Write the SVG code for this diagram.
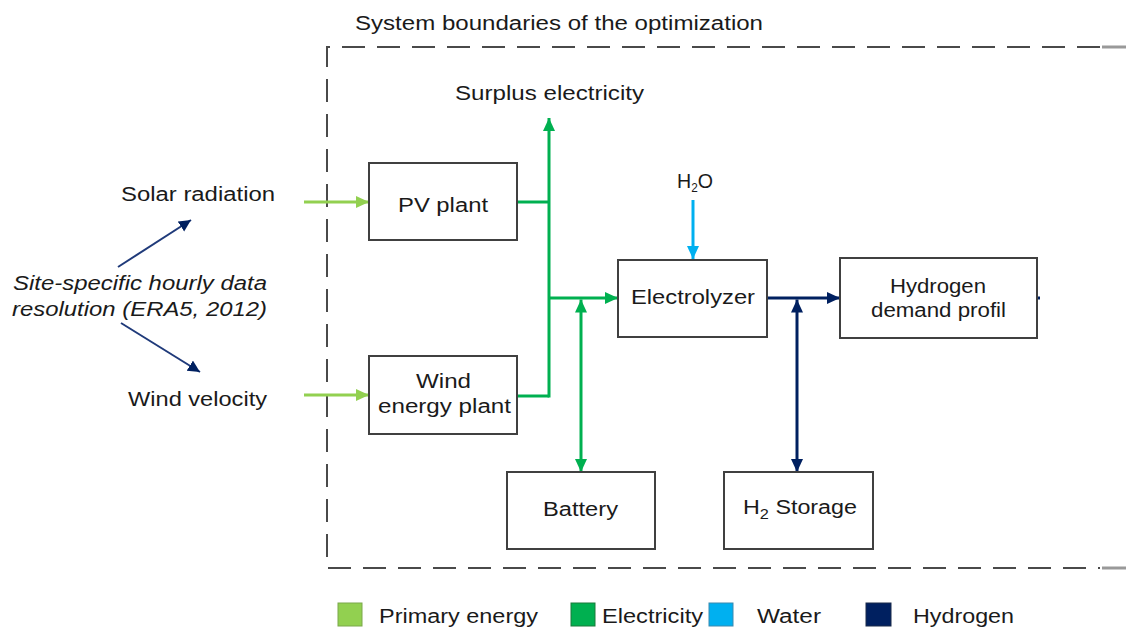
<svg xmlns="http://www.w3.org/2000/svg" width="1136" height="628" viewBox="0 0 1136 628">
<style>
text{font-family:"Liberation Sans",Arial,sans-serif;font-size:20px;fill:#1a1a1a}
.box{fill:#fff;stroke:#404040;stroke-width:2}
.bnd{fill:none;stroke:#4a4a4a;stroke-width:2;stroke-dasharray:23 12}
.pe{stroke:#92D050;stroke-width:3;fill:none}
.el{stroke:#00B050;stroke-width:3;fill:none}
.wa{stroke:#00B0F0;stroke-width:3;fill:none}
.hy{stroke:#002060;stroke-width:3;fill:none}
.nv{stroke:#1F3A7A;stroke-width:2;fill:none}
</style>
<defs>
<marker id="mPE" markerUnits="userSpaceOnUse" markerWidth="14" markerHeight="14" refX="13" refY="7" orient="auto-start-reverse"><path d="M0,1 L13,7 L0,13 z" fill="#92D050"/></marker>
<marker id="mEL" markerUnits="userSpaceOnUse" markerWidth="14" markerHeight="14" refX="13" refY="7" orient="auto-start-reverse"><path d="M0,1 L13,7 L0,13 z" fill="#00B050"/></marker>
<marker id="mWA" markerUnits="userSpaceOnUse" markerWidth="14" markerHeight="14" refX="13" refY="7" orient="auto-start-reverse"><path d="M0,1 L13,7 L0,13 z" fill="#00B0F0"/></marker>
<marker id="mHY" markerUnits="userSpaceOnUse" markerWidth="14" markerHeight="14" refX="13" refY="7" orient="auto-start-reverse"><path d="M0,1 L13,7 L0,13 z" fill="#002060"/></marker>
<marker id="mNV" markerUnits="userSpaceOnUse" markerWidth="14" markerHeight="14" refX="12" refY="6" orient="auto"><path d="M0,0 L12,6 L0,12 z" fill="#002060"/></marker>
</defs>
<rect width="1136" height="628" fill="#fff"/>

<g id="boundary">
<path class="bnd" d="M1100,47 H327 V568 H1100"/>
<line x1="1102" y1="47" x2="1126" y2="47" stroke="#999" stroke-width="3"/>
<line x1="1102" y1="568" x2="1126" y2="568" stroke="#999" stroke-width="3"/>
<text x="355" y="30" textLength="408" lengthAdjust="spacingAndGlyphs">System boundaries of the optimization</text>
</g>

<g id="connectors">
<line class="nv" x1="118" y1="267" x2="191" y2="220" marker-end="url(#mNV)"/>
<line class="nv" x1="121" y1="323" x2="200" y2="372" marker-end="url(#mNV)"/>
<line class="pe" x1="304" y1="202" x2="369" y2="202" marker-end="url(#mPE)"/>
<line class="pe" x1="304" y1="395" x2="369" y2="395" marker-end="url(#mPE)"/>
<path class="el" d="M517,202 H549"/>
<path class="el" d="M517,396 H549"/>
<path class="el" d="M549,397.5 V118" marker-end="url(#mEL)"/>
<path class="el" d="M549,298 H618" marker-end="url(#mEL)"/>
<path class="el" d="M581,299.5 V472" marker-start="url(#mEL)" marker-end="url(#mEL)"/>
<path class="wa" d="M693,200 V259" marker-end="url(#mWA)"/>
<path class="hy" d="M767,298 H840" marker-end="url(#mHY)"/>
<path class="hy" d="M797,299.5 V472" marker-start="url(#mHY)" marker-end="url(#mHY)"/>
<path class="hy" d="M1037,298 H1040" stroke-width="2"/>
</g>

<g id="solar">
<text x="121" y="201" textLength="154" lengthAdjust="spacingAndGlyphs">Solar radiation</text>
</g>
<g id="site-data">
<text x="13" y="290" font-style="italic" textLength="254" lengthAdjust="spacingAndGlyphs">Site-specific hourly data</text>
<text x="12" y="316" font-style="italic" textLength="255" lengthAdjust="spacingAndGlyphs">resolution (ERA5, 2012)</text>
</g>
<g id="wind-velocity">
<text x="128" y="406" textLength="139" lengthAdjust="spacingAndGlyphs">Wind velocity</text>
</g>
<g id="surplus">
<text x="455" y="100" textLength="189" lengthAdjust="spacingAndGlyphs">Surplus electricity</text>
</g>
<g id="pv-plant">
<rect class="box" x="369" y="163" width="148" height="77"/>
<text x="398" y="212" textLength="90" lengthAdjust="spacingAndGlyphs">PV plant</text>
</g>
<g id="wind-plant">
<rect class="box" x="369" y="356" width="148" height="78"/>
<text x="416" y="388" textLength="55" lengthAdjust="spacingAndGlyphs">Wind</text>
<text x="378" y="413" textLength="133" lengthAdjust="spacingAndGlyphs">energy plant</text>
</g>
<g id="h2o">
<text x="677" y="188" font-size="17" textLength="36" lengthAdjust="spacingAndGlyphs">H<tspan font-size="12" dy="4">2</tspan><tspan dy="-4">O</tspan></text>
</g>
<g id="electrolyzer">
<rect class="box" x="618" y="260" width="149" height="77"/>
<text x="631" y="304" textLength="124" lengthAdjust="spacingAndGlyphs">Electrolyzer</text>
</g>
<g id="demand">
<rect class="box" x="840" y="258" width="197" height="80"/>
<text x="890" y="293" textLength="96" lengthAdjust="spacingAndGlyphs">Hydrogen</text>
<text x="871" y="317" textLength="135" lengthAdjust="spacingAndGlyphs">demand profil</text>
</g>
<g id="battery">
<rect class="box" x="507" y="472" width="148" height="77"/>
<text x="543" y="516" textLength="75" lengthAdjust="spacingAndGlyphs">Battery</text>
</g>
<g id="h2-storage">
<rect class="box" x="724" y="472" width="149" height="77"/>
<text x="743" y="514" textLength="114" lengthAdjust="spacingAndGlyphs">H<tspan font-size="14" dy="5">2</tspan><tspan dy="-5"> Storage</tspan></text>
</g>

<g id="legend">
<rect x="338" y="603" width="24" height="23" fill="#92D050" stroke="#7aa84a" stroke-width="1"/>
<text x="379" y="623" textLength="159" lengthAdjust="spacingAndGlyphs">Primary energy</text>
<rect x="571" y="603" width="24" height="23" fill="#00B050" stroke="#1a7a3a" stroke-width="1"/>
<text x="602" y="623" textLength="101" lengthAdjust="spacingAndGlyphs">Electricity</text>
<rect x="709" y="603" width="24" height="23" fill="#00B0F0" stroke="#3a8ab0" stroke-width="1"/>
<text x="757" y="623" textLength="64" lengthAdjust="spacingAndGlyphs">Water</text>
<rect x="866" y="603" width="25" height="23" fill="#002060" stroke="#1a2a4a" stroke-width="1"/>
<text x="913" y="623" textLength="101" lengthAdjust="spacingAndGlyphs">Hydrogen</text>
</g>
</svg>
